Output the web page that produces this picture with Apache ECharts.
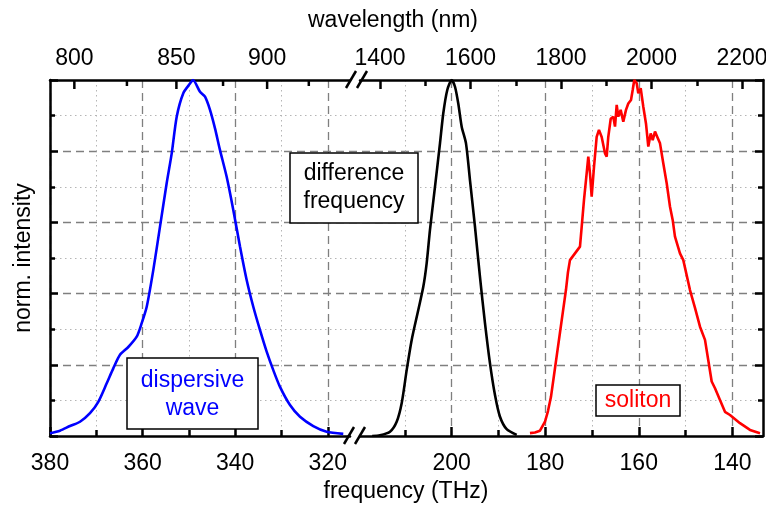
<!DOCTYPE html>
<html><head><meta charset="utf-8">
<script src="https://cdn.jsdelivr.net/npm/echarts@6/dist/echarts.min.js"></script>
<style>html,body{margin:0;padding:0;background:#fff}#c{width:766px;height:507px}</style>
</head><body><div id="c"></div><script>
const FONT = '"Liberation Sans", Arial, sans-serif';
const C_NM_THZ = 299792.458;

// ---- data ----
const dispersiveFreq = [380.0, 377.84, 375.68, 373.52, 371.36, 369.57, 367.75, 366.33, 364.88, 363.09, 361.27, 360.19, 359.11, 357.69, 356.24, 354.80, 353.71, 352.63, 351.21, 349.76, 349.11, 347.60, 346.52, 345.44, 344.36, 343.28, 341.84, 340.41, 338.96, 337.52, 336.09, 334.65, 333.20, 331.77, 330.32, 328.16, 326.00, 323.13, 320.24, 316.65];
const dispersiveInt  = [0.008, 0.015, 0.028, 0.040, 0.064, 0.096, 0.148, 0.190, 0.228, 0.250, 0.279, 0.317, 0.363, 0.466, 0.588, 0.710, 0.794, 0.897, 0.963, 0.990, 1.000, 0.967, 0.953, 0.916, 0.864, 0.803, 0.728, 0.635, 0.532, 0.438, 0.363, 0.298, 0.237, 0.185, 0.138, 0.087, 0.054, 0.028, 0.012, 0.006];

const diffFreq = [217.0, 215.33, 213.19, 211.76, 210.69, 209.62, 208.55, 207.14, 206.07, 205.35, 204.64, 203.57, 202.50, 201.80, 200.94, 200.00, 199.29, 198.59, 197.86, 196.94, 196.09, 195.02, 193.95, 192.88, 191.81, 190.74, 189.67, 188.24, 186.10];
const diffInt  = [0.0, 0.002, 0.012, 0.040, 0.092, 0.185, 0.270, 0.354, 0.419, 0.485, 0.579, 0.700, 0.822, 0.906, 0.972, 1.000, 0.981, 0.934, 0.869, 0.822, 0.719, 0.588, 0.447, 0.317, 0.204, 0.115, 0.054, 0.019, 0.003];

const solitonFreq = [183.26, 182.19, 181.12, 180.05, 179.41, 178.77, 178.13, 177.49, 176.85, 176.21, 175.57, 175.14, 174.71, 173.64, 172.57, 172.20, 171.71, 171.14, 170.79, 170.43, 170.07, 169.57, 169.00, 168.51, 167.93, 167.22, 166.86, 166.52, 166.00, 165.45, 165.08, 164.72, 164.38, 163.87, 163.31, 162.73, 162.24, 161.66, 161.30, 160.96, 160.44, 160.10, 159.59, 159.03, 158.46, 157.96, 157.45, 157.02, 156.53, 156.04, 155.46, 154.76, 154.03, 153.32, 152.75, 152.26, 151.19, 150.48, 149.05, 147.98, 146.91, 145.84, 145.14, 144.41, 143.70, 142.64, 141.57, 140.50, 138.36, 136.22, 134.08];
const solitonInt  = [0.008, 0.010, 0.015, 0.040, 0.070, 0.110, 0.170, 0.230, 0.290, 0.350, 0.410, 0.460, 0.494, 0.513, 0.532, 0.588, 0.663, 0.738, 0.785, 0.738, 0.672, 0.756, 0.840, 0.860, 0.840, 0.794, 0.785, 0.840, 0.891, 0.897, 0.869, 0.930, 0.897, 0.916, 0.883, 0.916, 0.934, 0.944, 0.972, 1.000, 0.991, 0.963, 0.977, 0.925, 0.878, 0.813, 0.850, 0.831, 0.855, 0.840, 0.822, 0.766, 0.710, 0.644, 0.607, 0.560, 0.513, 0.494, 0.410, 0.360, 0.307, 0.270, 0.213, 0.153, 0.134, 0.101, 0.068, 0.059, 0.036, 0.017, 0.008];

// ---- tick labels ----
const bottomLeftTicks  = [320, 340, 360, 380];
const bottomRightTicks = [140, 160, 180, 200];
const topLeftMajorNm   = [800, 850, 900];
const topLeftMinorNm   = [825, 875, 925];
const topRightTicks    = [1400, 1600, 1800, 2000, 2200];

const xTitle = 'frequency (THz)';
const x2Title = 'wavelength (nm)';
const yTitle = 'norm. intensity';

// ---- styles ----
const AX = { color: '#000', width: 2.5 };
const dashLine = { type: [8, 5], color: '#7f7f7f', width: 1.3 };
const dotLine = { type: [1.5, 3.5], color: '#b5b5b5', width: 1 };
const labelStyle = { fontSize: 23, color: '#000', fontFamily: FONT, formatter: v => String(v) };

function zip(a, b) { return a.map((v, i) => [v, b[i]]); }

const topLeftData = topLeftMajorNm.map(nm => [C_NM_THZ / nm, 1, nm])
  .concat(topLeftMinorNm.map(nm => [C_NM_THZ / nm, 0, nm]));

const chart = echarts.init(document.getElementById('c'), null, { renderer: 'canvas' });
const option = {
  animation: false,
  backgroundColor: '#fff',
  grid: [
    { left: 50, right: 416, top: 80, bottom: 71, outerBoundsMode: 'none', containLabel: false },
    { left: 360, right: 3, top: 80, bottom: 71, outerBoundsMode: 'none', containLabel: false },
    { left: 50, right: 3, top: 80, bottom: 71, outerBoundsMode: 'none', containLabel: false }
  ],
  xAxis: [
    { type: 'value', gridIndex: 0, position: 'bottom', min: 315.2, max: 380, inverse: true, splitNumber: 3,
      axisLine: { lineStyle: AX },
      axisTick: { inside: true, length: 9, lineStyle: AX, customValues: bottomLeftTicks },
      minorTick: { show: true, splitNumber: 2, length: 6, lineStyle: AX },
      axisLabel: { customValues: bottomLeftTicks, margin: 16, ...labelStyle },
      splitLine: { show: true, lineStyle: dashLine },
      minorSplitLine: { show: true, lineStyle: dotLine } },
    { type: 'value', gridIndex: 0, position: 'top', min: 315.2, max: 380, inverse: true,
      axisLine: { lineStyle: AX }, axisTick: { show: false }, axisLabel: { show: false }, splitLine: { show: false } },
    { type: 'value', gridIndex: 1, position: 'bottom', min: 133.44, max: 219.6, inverse: true, splitNumber: 4,
      axisLine: { lineStyle: AX },
      axisTick: { inside: true, length: 9, lineStyle: AX, customValues: bottomRightTicks },
      minorTick: { show: true, splitNumber: 2, length: 6, lineStyle: AX },
      axisLabel: { customValues: bottomRightTicks, margin: 16, ...labelStyle },
      splitLine: { show: true, lineStyle: dashLine },
      minorSplitLine: { show: true, lineStyle: dotLine } },
    { type: 'value', gridIndex: 1, position: 'top', min: 1355.8, max: 2246.4, splitNumber: 4,
      axisLine: { lineStyle: AX },
      axisTick: { inside: true, length: 9, lineStyle: AX, customValues: topRightTicks },
      minorTick: { show: true, splitNumber: 2, length: 6, lineStyle: AX },
      axisLabel: { customValues: topRightTicks, margin: 10, ...labelStyle },
      splitLine: { show: false } },
    { type: 'value', gridIndex: 2, show: false, min: 0, max: 1 }
  ],
  yAxis: [
    { type: 'value', gridIndex: 0, position: 'left', min: 0, max: 1, interval: 0.2,
      name: yTitle, nameLocation: 'middle', nameGap: 15,
      nameTextStyle: { fontSize: 23, color: '#000', fontFamily: FONT },
      axisLine: { show: true, lineStyle: AX },
      axisTick: { inside: true, length: 8, lineStyle: AX },
      minorTick: { show: true, splitNumber: 2, length: 5, lineStyle: AX },
      axisLabel: { show: false }, splitLine: { show: false } },
    { type: 'value', gridIndex: 1, position: 'right', min: 0, max: 1, interval: 0.2,
      axisLine: { show: true, lineStyle: AX },
      axisTick: { inside: true, length: 8, lineStyle: AX },
      minorTick: { show: true, splitNumber: 2, length: 5, lineStyle: AX },
      axisLabel: { show: false }, splitLine: { show: false } },
    { type: 'value', gridIndex: 2, min: 0, max: 1, interval: 0.2,
      axisLine: { show: false }, axisTick: { show: false }, axisLabel: { show: false },
      splitLine: { show: true, showMinLine: false, showMaxLine: false, lineStyle: dashLine },
      minorTick: { show: false, splitNumber: 2 },
      minorSplitLine: { show: true, lineStyle: dotLine } }
  ],
  series: [
    { type: 'line', name: 'dispersive wave', xAxisIndex: 0, yAxisIndex: 0, data: zip(dispersiveFreq, dispersiveInt),
      showSymbol: false, symbol: 'none', smooth: 0.25, lineStyle: { color: '#0000ff', width: 2.6 }, z: 5 },
    { type: 'line', name: 'difference frequency', xAxisIndex: 2, yAxisIndex: 1, data: zip(diffFreq, diffInt),
      showSymbol: false, symbol: 'none', smooth: 0.25, lineStyle: { color: '#000000', width: 2.6 }, z: 5 },
    { type: 'line', name: 'soliton', xAxisIndex: 2, yAxisIndex: 1, data: zip(solitonFreq, solitonInt),
      showSymbol: false, symbol: 'none', lineStyle: { color: '#ff0000', width: 2.6 }, z: 5 },
    { type: 'custom', name: 'top wavelength axis', xAxisIndex: 0, yAxisIndex: 0, data: topLeftData, clip: false, z: 6,
      renderItem: function (params, api) {
        const p = api.coord([api.value(0), 1]);
        const major = api.value(1) === 1;
        const children = [{ type: 'line', shape: { x1: p[0], y1: p[1], x2: p[0], y2: p[1] + (major ? 9 : 6) },
          style: { stroke: '#000', lineWidth: 2.5 } }];
        if (major) children.push({ type: 'text', style: { text: String(api.value(2)), x: p[0], y: p[1] - 21.5,
          align: 'center', verticalAlign: 'middle', font: '23px ' + FONT, fill: '#000' } });
        return { type: 'group', children: children };
      } }
  ],
  graphic: [
    { type: 'text', style: { text: x2Title, x: 393, y: 21, align: 'center', verticalAlign: 'middle', font: '23px ' + FONT, fill: '#000' } },
    { type: 'text', style: { text: xTitle, x: 406, y: 491.5, align: 'center', verticalAlign: 'middle', font: '23px ' + FONT, fill: '#000' } },
    // annotation boxes
    { type: 'rect', z: 10, shape: { x: 127, y: 358, width: 131, height: 71 }, style: { fill: '#fff', stroke: '#000', lineWidth: 1.5 } },
    { type: 'text', z: 11, style: { text: 'dispersive\nwave', x: 192.5, y: 395, align: 'center', verticalAlign: 'middle', font: '23px ' + FONT, fill: '#0000ff', lineHeight: 28 } },
    { type: 'rect', z: 10, shape: { x: 290, y: 153, width: 128, height: 70 }, style: { fill: '#fff', stroke: '#000', lineWidth: 1.5 } },
    { type: 'text', z: 11, style: { text: 'difference\nfrequency', x: 354, y: 188, align: 'center', verticalAlign: 'middle', font: '23px ' + FONT, fill: '#000', lineHeight: 28 } },
    { type: 'rect', z: 10, shape: { x: 596, y: 385, width: 84, height: 31 }, style: { fill: '#fff', stroke: '#000', lineWidth: 1.5 } },
    { type: 'text', z: 11, style: { text: 'soliton', x: 638, y: 401, align: 'center', verticalAlign: 'middle', font: '23px ' + FONT, fill: '#ff0000' } },
    // axis break marks
    { type: 'line', z: 12, shape: { x1: 346, y1: 88, x2: 356, y2: 71 }, style: { stroke: '#000', lineWidth: 2.5 } },
    { type: 'line', z: 12, shape: { x1: 357, y1: 88, x2: 367, y2: 71 }, style: { stroke: '#000', lineWidth: 2.5 } },
    { type: 'line', z: 12, shape: { x1: 344, y1: 444, x2: 354, y2: 427 }, style: { stroke: '#000', lineWidth: 2.5 } },
    { type: 'line', z: 12, shape: { x1: 355, y1: 444, x2: 365, y2: 427 }, style: { stroke: '#000', lineWidth: 2.5 } }
  ]
};
chart.setOption(option);
</script></body></html>
